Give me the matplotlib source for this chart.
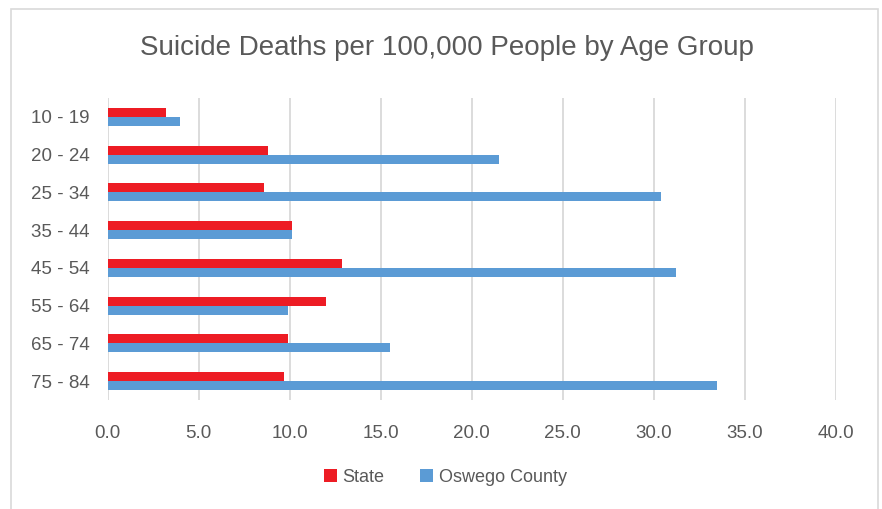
import numpy as np
import matplotlib.pyplot as plt
from matplotlib.patches import Rectangle

ages = ['10 - 19', '20 - 24', '25 - 34', '35 - 44', '45 - 54', '55 - 64', '65 - 74', '75 - 84']
state = [3.2, 8.8, 8.6, 10.1, 12.9, 12.0, 9.9, 9.7]
oswego = [4.0, 21.5, 30.4, 10.1, 31.2, 9.9, 15.5, 33.5]
xticks = [0, 5, 10, 15, 20, 25, 30, 35, 40]

red = '#ED1C24'
blue = '#5B9BD5'
grey = '#595959'
plt.rcParams['font.family'] = ['Liberation Sans Narrow', 'Liberation Sans', 'DejaVu Sans']

fig = plt.figure(figsize=(8.82, 5.09), dpi=100)
ax = fig.add_axes([0.1221, 0.2141, 0.8254, 0.5934])

y = np.arange(len(ages))
h = 0.237
ax.barh(y - h/2, state, height=h, color=red, label='State')
ax.barh(y + h/2, oswego, height=h, color=blue, label='Oswego County')

ax.set_xlim(0, 40)
ax.set_ylim(len(ages) - 0.5, -0.5)
ax.set_xticks(xticks)
ax.set_xticklabels(['%.1f' % t for t in xticks])
ax.set_yticks(y)
ax.set_yticklabels(ages)
ax.tick_params(length=0, labelsize=13.5, colors=grey)
ax.tick_params(axis='x', pad=18)
ax.tick_params(axis='y', pad=13)
for s in ax.spines.values():
    s.set_visible(False)
ax.grid(axis='x', color='#d9d9d9', lw=1.3)
ax.set_axisbelow(True)

fig.text(0.507, 0.905, 'Suicide Deaths per 100,000 People by Age Group',
         ha='center', va='center', fontsize=20, color=grey)

fig.legend(loc='center', bbox_to_anchor=(0.505, 0.062), ncol=2, frameon=False,
           fontsize=13, labelcolor=grey, handlelength=0.7, handleheight=0.7,
           handletextpad=0.3, columnspacing=2.0)

fig.add_artist(Rectangle((11/882, -0.1), (878-11)/882, 1.1 - 9/509,
                         transform=fig.transFigure, fill=False,
                         edgecolor='#d9d9d9', lw=1.2, clip_on=False))

fig.savefig('out.png', dpi=100)
